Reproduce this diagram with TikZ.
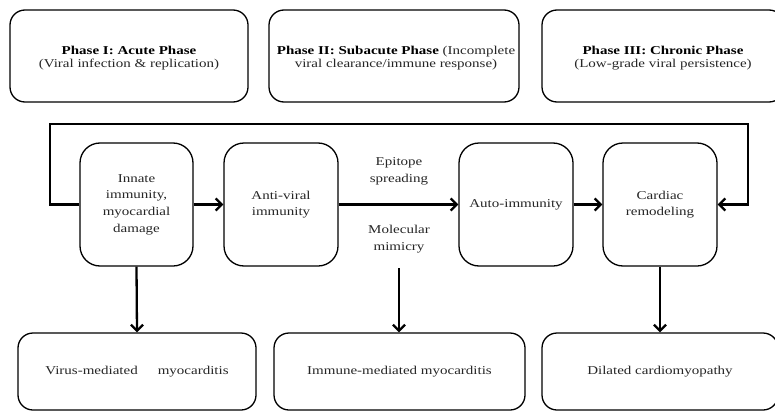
\documentclass[tikz,border=0pt]{standalone}
\usepackage{fontspec}
\setmainfont{Liberation Serif}[FakeStretch=1.25]
\usetikzlibrary{arrows.meta}
\begin{document}
\begin{tikzpicture}[x=1pt,y=-1pt,
  box/.style={draw, line width=1.3pt, rounded corners=15pt},
  midbox/.style={draw, line width=1.3pt, rounded corners=20pt},
  txt/.style={align=center, text=black!85, font=\fontsize{12}{13.5}\selectfont},
  midtxt/.style={align=center, text=black!85, font=\fontsize{12}{16.7}\selectfont},
  arr/.style={line width=2.3pt, -{Straight Barb[length=6pt,width=12pt,line width=2.3pt]}},
  ln/.style={line width=2.3pt}]
\useasboundingbox (0,0) rectangle (775,412);
% top phase boxes
\draw[box] (10,10) rectangle (248,102);
\draw[box] (269,10) rectangle (519,102);
\draw[box] (542,10) rectangle (784,102);
\node[txt] (p1) at (129,58) {\textcolor{black}{\textbf{Phase I: Acute Phase}}\\(Viral infection \& replication)};
\node[txt] (p2) at (396,58) {\textcolor{black}{\textbf{Phase II: Subacute Phase}} (Incomplete\\viral clearance/immune response)};
\node[txt] (p3) at (663,58) {\textcolor{black}{\textbf{Phase III: Chronic Phase}}\\(Low-grade viral persistence)};
% middle boxes
\node[midbox, minimum width=113pt, minimum height=123pt, midtxt, inner sep=0pt] (a) at (136.5,204.5) {Innate\\immunity,\\myocardial\\damage};
\node[midbox, minimum width=114pt, minimum height=123pt, midtxt, inner sep=0pt] (b) at (281,204.5) {Anti-viral\\immunity};
\node[midbox, minimum width=114pt, minimum height=123pt, midtxt, inner sep=0pt] (c) at (516,204.5) {Auto-immunity};
\node[midbox, minimum width=114pt, minimum height=123pt, midtxt, inner sep=0pt] (d) at (660,204.5) {Cardiac\\remodeling};
% labels
\node[midtxt] (es) at (399,171) {Epitope\\spreading};
\node[midtxt] (mm) at (399,239) {Molecular\\mimicry};
\coordinate (mmstart) at (399,268);
% bottom boxes
\node[box, minimum width=238pt, minimum height=77pt, txt] (v) at (137,371.5) {Virus-mediated\hspace{20pt}myocarditis};
\node[box, minimum width=251pt, minimum height=77pt, txt] (i) at (399.5,371.5) {Immune-mediated myocarditis};
\node[box, minimum width=236pt, minimum height=77pt, txt] (dc) at (660,371.5) {Dilated cardiomyopathy};
% connectors
\coordinate (lt) at (50,124);
\coordinate (rt) at (748,124);
\draw[arr] (a.east) -- (b.west);
\draw[arr] (b.east) -- (c.west);
\draw[arr] (c.east) -- (d.west);
\draw[arr] (a.west) -- (a.west -| lt) -- (lt) -- (rt) -- (rt |- d.east) -- (d.east);
\draw[arr] (a.south) -- (v.north);
\draw[arr] (mmstart) -- (mmstart |- i.north);
\draw[arr] (d.south) -- (dc.north);
\end{tikzpicture}
\end{document}
